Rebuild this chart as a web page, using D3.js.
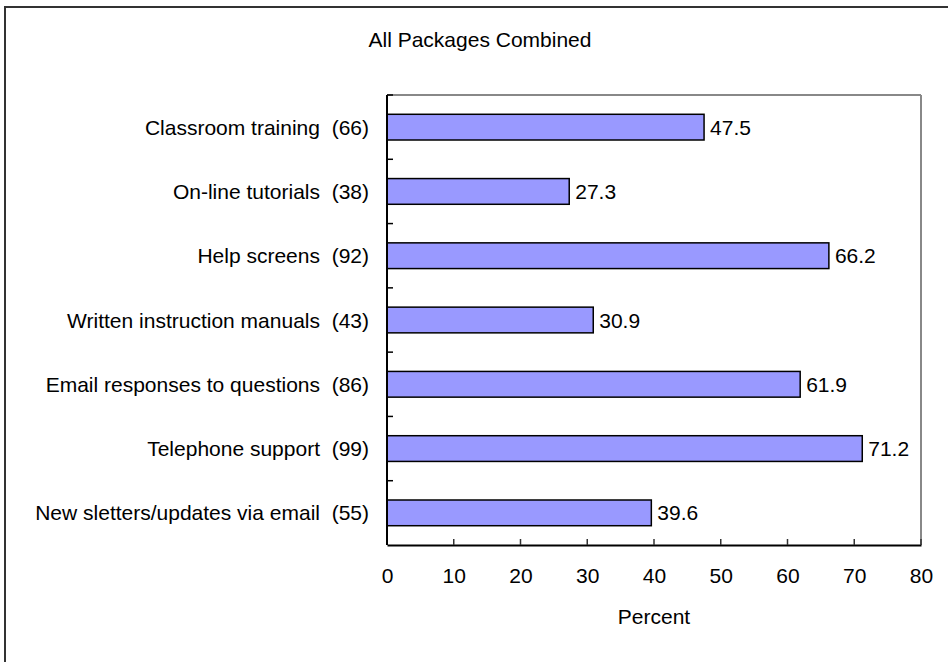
<!DOCTYPE html>
<html>
<head>
<meta charset="utf-8">
<script src="https://cdn.jsdelivr.net/npm/d3@7"></script>
<style>
  html, body { margin: 0; padding: 0; background: #fff; overflow: hidden; }
  svg { display: block; }
  text { font-family: "Liberation Sans", Arial, sans-serif; fill: #000; }
</style>
</head>
<body>
<svg id="chart" width="948" height="662"></svg>
<script>
// Support channels: label, respondent count, and percent
const categories = [
  "Classroom training",
  "On-line tutorials",
  "Help screens",
  "Written instruction manuals",
  "Email responses to questions",
  "Telephone support",
  "New sletters/updates via email"
];
const counts = [66, 38, 92, 43, 86, 99, 55];
const percents = [47.5, 27.3, 66.2, 30.9, 61.9, 71.2, 39.6];
const xTicks = [0, 10, 20, 30, 40, 50, 60, 70, 80];
const title = "All Packages Combined";
const xTitle = "Percent";

const svg = d3.select("#chart");
const W = 948, H = 662;
const FS = 21;

const plot = { left: 387, right: 921, top: 95, bottom: 545 };

// Outer frame: left and top edges (the rest runs off the page)
svg.append("path")
  .attr("d", `M5,${H + 5} L5,7 L${W + 5},7`)
  .attr("fill", "none")
  .attr("stroke", "#333").attr("stroke-width", 2);

const x = d3.scaleLinear().domain([0, 80]).range([plot.left, plot.right]);
const y = d3.scaleBand().domain(categories).range([plot.top, plot.bottom]).paddingInner(0.6).paddingOuter(0.3);
const yBand = d3.scaleBand().domain(categories).range([plot.top, plot.bottom]);

// Plot-area border: gray top and right
svg.append("line")
  .attr("x1", plot.left).attr("x2", plot.right)
  .attr("y1", plot.top).attr("y2", plot.top)
  .attr("stroke", "#888").attr("stroke-width", 2);
svg.append("line")
  .attr("x1", plot.right).attr("x2", plot.right)
  .attr("y1", plot.top).attr("y2", plot.bottom)
  .attr("stroke", "#888").attr("stroke-width", 2);

// Bars
svg.append("g").selectAll("rect")
  .data(categories)
  .join("rect")
  .attr("x", x(0))
  .attr("y", d => y(d))
  .attr("width", (d, i) => x(percents[i]) - x(0))
  .attr("height", y.bandwidth())
  .attr("fill", "#9999FF")
  .attr("stroke", "#000")
  .attr("stroke-width", 1.5);

// Value labels
svg.append("g").selectAll("text")
  .data(categories)
  .join("text")
  .attr("x", (d, i) => x(percents[i]) + 6)
  .attr("y", d => y(d) + y.bandwidth() / 2)
  .attr("dy", "0.36em")
  .attr("font-size", FS)
  .text((d, i) => percents[i].toFixed(1));

// X axis with inward ticks
const xAxis = d3.axisBottom(x).tickValues(xTicks).tickSize(0).tickFormat(d3.format("d"));
const gx = svg.append("g").attr("transform", `translate(0,${plot.bottom})`).call(xAxis);
gx.select(".domain").attr("stroke", "#000").attr("stroke-width", 2);
gx.selectAll(".tick line").remove();
gx.selectAll(".tick text")
  .attr("y", 38).attr("dy", 0)
  .attr("font-size", FS)
  .attr("font-family", "Liberation Sans, Arial, sans-serif")
  .attr("fill", "#000");
svg.append("g").selectAll("line")
  .data(xTicks.slice(1))
  .join("line")
  .attr("x1", d => x(d)).attr("x2", d => x(d))
  .attr("y1", plot.bottom).attr("y2", plot.bottom - 6)
  .attr("stroke", "#333").attr("stroke-width", 1.5);

// Y axis with category-boundary ticks
svg.append("line")
  .attr("x1", plot.left).attr("x2", plot.left)
  .attr("y1", plot.top).attr("y2", plot.bottom)
  .attr("stroke", "#000").attr("stroke-width", 2);
const boundaries = categories.map(d => yBand(d));
svg.append("g").selectAll("line")
  .data(boundaries)
  .join("line")
  .attr("x1", plot.left).attr("x2", plot.left + 6)
  .attr("y1", d => d).attr("y2", d => d)
  .attr("stroke", "#000").attr("stroke-width", 1.5);

// Category labels
svg.append("g").selectAll("text")
  .data(categories)
  .join("text")
  .attr("x", 369)
  .attr("y", d => y(d) + y.bandwidth() / 2)
  .attr("dy", "0.36em")
  .attr("text-anchor", "end")
  .attr("font-size", FS)
  .style("white-space", "pre")
  .text((d, i) => `${d}  (${counts[i]})`);

// Titles
svg.append("text")
  .attr("x", 480).attr("y", 47)
  .attr("text-anchor", "middle")
  .attr("font-size", FS)
  .text(title);
svg.append("text")
  .attr("x", (plot.left + plot.right) / 2).attr("y", 624)
  .attr("text-anchor", "middle")
  .attr("font-size", FS)
  .text(xTitle);
</script>
</body>
</html>
